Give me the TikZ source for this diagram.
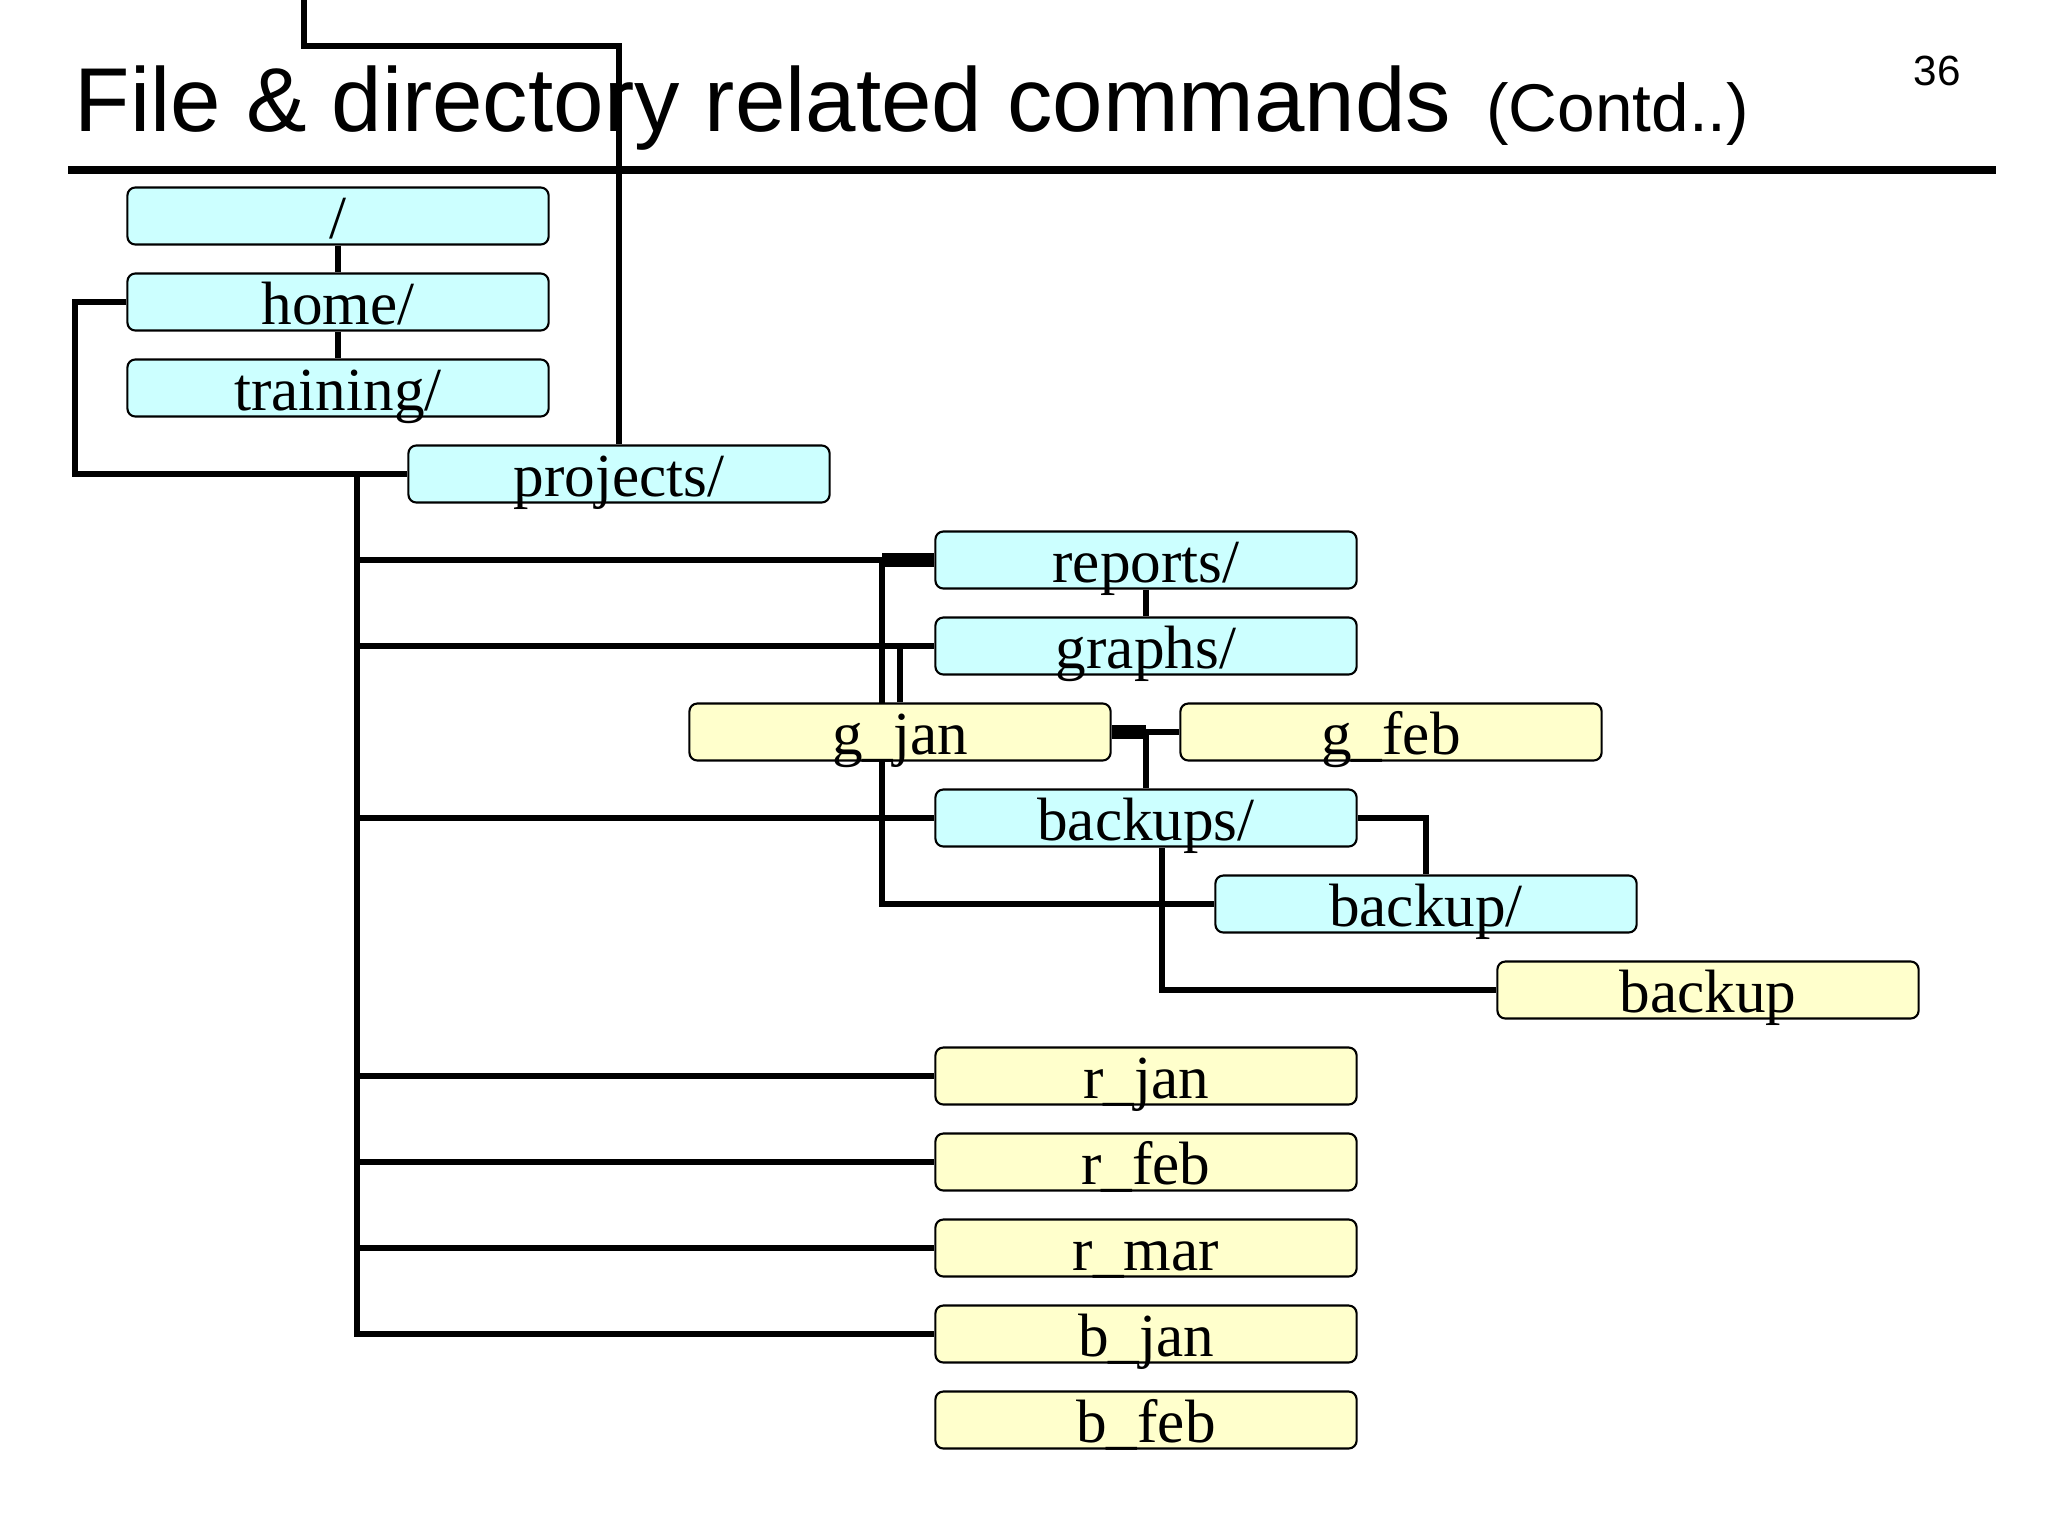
\documentclass[tikz,border=0pt]{standalone}
\usepackage{fontspec}
\setmainfont{Liberation Serif}
\newfontfamily\slidefont{Liberation Sans}
\usetikzlibrary{backgrounds}

\definecolor{dircyan}{HTML}{CCFFFF}
\definecolor{fileyellow}{HTML}{FFFFCC}

\tikzset{
	treebox/.style={draw, line width=0.6pt, rounded corners=0.08cm, inner sep=0pt,
		minimum width=4.21cm, text height=0.51cm, text depth=0.06cm,
		font=\fontsize{17.4pt}{20pt}\selectfont},
	dirbox/.style={treebox, fill=dircyan},
	filebox/.style={treebox, fill=fileyellow},
	link/.style={line width=1.7pt},
	thicklink/.style={line width=4pt}
}

\begin{document}
\begin{tikzpicture}[x=0.01cm,y=-0.01cm]
	\useasboundingbox (0,0) rectangle (2048,1536);
	% heading
	\node[anchor=base west, inner sep=0pt, font=\slidefont\fontsize{25.8pt}{30pt}\selectfont] (title) at (74,131) {File \& directory related commands\hspace{0.1cm} {\fontsize{19.2pt}{22pt}\selectfont(Contd..)}};
	\node[anchor=base, inner sep=0pt, font=\slidefont\fontsize{12pt}{14pt}\selectfont] (pageno) at (1937,85) {36};
	\draw[line width=2.3pt] (68,170) -- (1996,170);

	% directories and files
	\node[dirbox] (root) at (338,216) {/};
	\node[dirbox] (home) at (338,302) {home/};
	\node[dirbox] (training) at (338,388) {training/};
	\node[dirbox] (projects) at (619,474) {projects/};
	\node[dirbox] (reports) at (1146,560) {reports/};
	\node[dirbox] (graphs) at (1146,646) {graphs/};
	\node[filebox] (gjan) at (900,732) {g\_jan};
	\node[filebox] (gfeb) at (1391,732) {g\_feb};
	\node[dirbox] (backups) at (1146,818) {backups/};
	\node[dirbox] (backupdir) at (1426,904) {backup/};
	\node[filebox] (backupfile) at (1708,990) {backup};
	\node[filebox] (rjan) at (1146,1076) {r\_jan};
	\node[filebox] (rfeb) at (1146,1162) {r\_feb};
	\node[filebox] (rmar) at (1146,1248) {r\_mar};
	\node[filebox] (bjan) at (1146,1334) {b\_jan};
	\node[filebox] (bfeb) at (1146,1420) {b\_feb};

	% connectors, behind the boxes
	\begin{scope}[on background layer]
	\begin{scope}[link]
		\coordinate (feed) at (304,0);
		\coordinate (feedbend) at (304,46);
		\coordinate (trunk) at (357,474);
		\draw (feed) -- (feedbend) -| (projects.north);
		\draw (root.south) -- (home.north);
		\draw (home.south) -- (training.north);
		\draw (home.west) -- ++(-51,0) |- (projects.west);
		\foreach \leaf in {reports,graphs,backups,rjan,rfeb,rmar,bjan}
			\draw (trunk) |- (\leaf.west);
		\draw (reports.west) -- ++(-52,0) |- (backupdir.west);
		\draw[thicklink] (reports.west) -- ++(-52,0);
		\draw (reports.south) -- (graphs.north);
		\draw (gjan.north) -- (gjan.north |- graphs.west);
		\draw (gjan.east) -- (gfeb.west);
		\draw[thicklink] (gjan.east) -- (gjan.east -| backups.north);
		\draw (backups.north) -- (backups.north |- gjan.east);
		\draw (backups.east) -| (backupdir.north);
		\draw ([xshift=0.16cm]backups.south) |- (backupfile.west);
	\end{scope}
	\end{scope}
\end{tikzpicture}
\end{document}
